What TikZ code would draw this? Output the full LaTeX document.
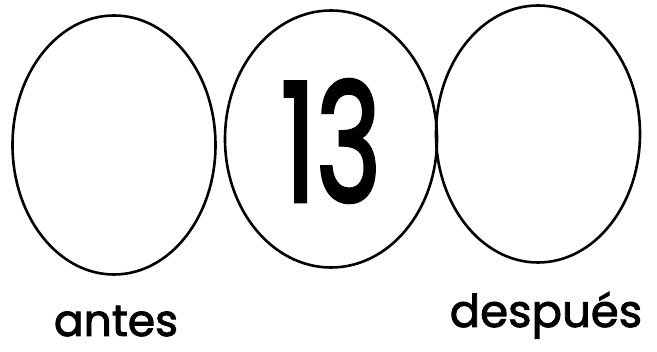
\documentclass[tikz,border=0pt]{standalone}
\usepackage{fontspec}
\setmainfont{Poppins}
\newfontfamily\boldish{Poppins}[FakeBold=2]
\newfontfamily\numfont{Poppins}[FakeBold=2.5]
\usetikzlibrary{shapes.geometric}
\begin{document}
\begin{tikzpicture}[x=1pt,y=-1pt,
  oval/.style={draw,line width=2.6pt,ellipse,inner sep=0pt},
  lbl/.style={inner sep=0pt,anchor=base,font=\boldish\fontsize{44}{50}\selectfont}]
\useasboundingbox (0,0) rectangle (657,352);
\node[oval,minimum width=203pt,minimum height=259pt] (before) at (114,145) {};
\node[oval,minimum width=212pt,minimum height=257pt] (num) at (331,139) {};
\node[oval,minimum width=204pt,minimum height=257pt] (after) at (538,134) {};
\node[inner sep=0pt,xscale=0.67,font=\numfont\fontsize{165}{170}\selectfont] (n) at (331,141) {13};
\node[lbl] (a) at (116,336) {antes};
\node[lbl,font=\boldish\fontsize{45}{52}\selectfont] (d) at (546,327) {después};
\end{tikzpicture}
\end{document}
